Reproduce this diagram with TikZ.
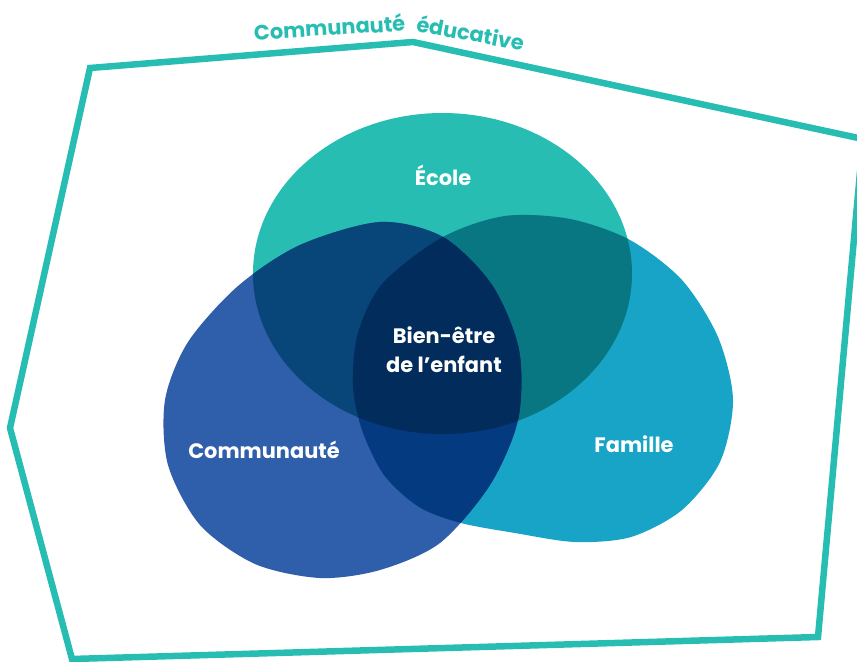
\documentclass[tikz,border=0pt]{standalone}
\usepackage{fontspec}
\setmainfont{Poppins}
\usepackage{tikz,xcolor}

\definecolor{ecole}{HTML}{28BDB3}
\definecolor{famille}{HTML}{17A4C6}
\definecolor{commu}{HTML}{2F5EAA}
\definecolor{ecolefam}{HTML}{087782}
\definecolor{ecolecom}{HTML}{084578}
\definecolor{comfam}{HTML}{043A80}
\definecolor{coeur}{HTML}{012C5B}

\def\ecoleblob{(442.5,273.5) ellipse [x radius=189.5, y radius=160.5]}
\def\familleblob{plot[smooth cycle] coordinates {(443,237) (505,216) (570,219) (630,240) (682,280) (718,337) (733,400) (720,462) (682,510) (631,537) (575,542) (515,533) (461,523) (419,507) (384,475) (362,430) (353,385) (358,333) (383,283)}}
\def\commublob{plot[smooth cycle] coordinates {(300,245) (380,222) (443,237) (492,285) (519,350) (518,420) (490,485) (440,543) (380,570) (320,578) (255,564) (200,525) (168,465) (165,400) (188,342) (238,286)}}

\begin{document}
\begin{tikzpicture}[x=1bp,y=-1bp,
    txt/.style={text=white,font=\bfseries\fontsize{21}{29}\selectfont,align=center,inner sep=0pt},
    titre/.style={text=ecole,font=\bfseries\fontsize{21}{25}\selectfont,inner sep=0pt,anchor=base},
    cadre/.style={draw=ecole,line width=6.5bp,line join=miter}]

    \useasboundingbox (0,0) rectangle (857,662);
    \clip (0,0) rectangle (857,662);

    % contour
    \coordinate (p1) at (90,68);
    \coordinate (p2) at (413,42);
    \coordinate (p3) at (863,139);
    \coordinate (p4) at (818,637);
    \coordinate (p5) at (72,659);
    \coordinate (p6) at (10,428);
    \draw [cadre] (p1) -- (p2) -- (p3) -- (p4) -- (p5) -- (p6) -- cycle;

    % les trois milieux
    \fill [ecole] \ecoleblob;
    \fill [famille] \familleblob;
    \fill [commu] \commublob;
    \begin{scope}
        \clip \ecoleblob;
        \fill [ecolefam] \familleblob;
        \fill [ecolecom] \commublob;
    \end{scope}
    \begin{scope}
        \clip \familleblob;
        \fill [comfam] \commublob;
    \end{scope}
    \begin{scope}
        \clip \ecoleblob;
        \clip \familleblob;
        \fill [coeur] \commublob;
    \end{scope}

    \node [titre, rotate=3.5] (t1) at (330,35.5) {Communauté};
    \node [titre, rotate=-10.5] (t2) at (469,41) {éducative};

    \node [txt, anchor=base] (a) at (443,185) {École};
    \node [txt, anchor=base] (b) at (634,452) {Famille};
    \node [txt, anchor=base] (c) at (264,458) {Communauté};
    \node [txt] (d) at (444,350) {Bien-être\\de l’enfant};

\end{tikzpicture}
\end{document}
